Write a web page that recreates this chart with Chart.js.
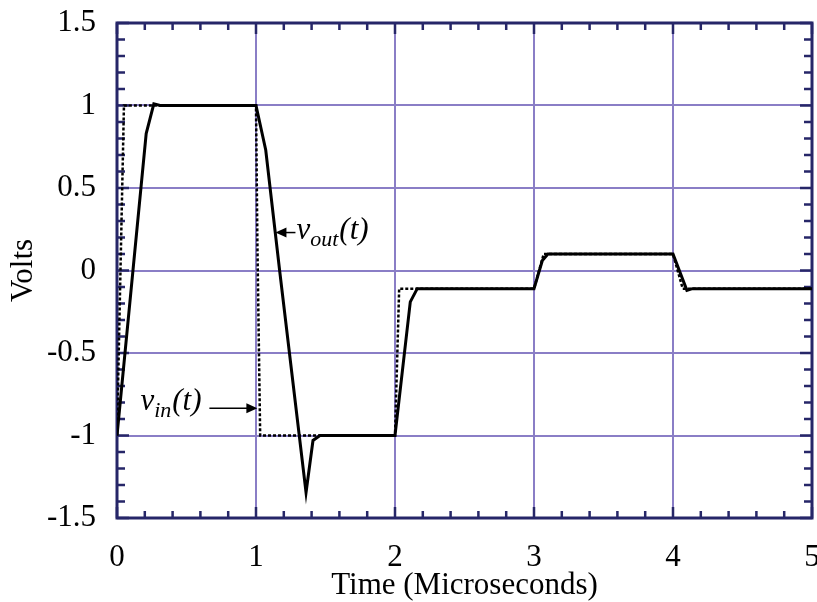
<!DOCTYPE html>
<html><head><meta charset="utf-8">
<script src="https://cdn.jsdelivr.net/npm/chart.js@4"></script>
<style>html,body{margin:0;padding:0;background:#fff;overflow:hidden}#wrap{width:817px;height:602px}</style>
</head><body><div id="wrap"><canvas id="c" width="817" height="602"></canvas></div>
<script>
// ---- data ----
const voutT = [0, 0.21, 0.265, 0.31, 1.0, 1.07, 1.17, 1.36, 1.41, 1.46, 2.0, 2.11, 2.16, 3.0, 3.06, 3.1, 4.0, 4.1, 4.14, 5.0];
const voutV = [-1, 0.83, 1.01, 1.0, 1.0, 0.73, 0.0, -1.345, -1.03, -1.0, -1.0, -0.19, -0.11, -0.11, 0.06, 0.1, 0.1, -0.12, -0.11, -0.11];
const vinT  = [0, 0.05, 1.0, 1.01, 1.03, 2.0, 2.03, 3.0, 3.07, 4.0, 4.07, 5.0];
const vinV  = [-1, 1, 1, 0.16, -1, -1, -0.11, -0.11, 0.1, 0.1, -0.11, -0.11];
const xTickLabels = ['0', '1', '2', '3', '4', '5'];
const yTickLabels = ['-1.5', '-1', '-0.5', '0', '0.5', '1', '1.5'];
const xTitle = 'Time (Microseconds)';
const yTitle = 'Volts';
// annotation anchors (data units): arrow tips
const voutArrowTip = [1.14, 0.23];
const vinArrowTip = [1.01, -0.835];

const SERIF = '"Liberation Serif", "Times New Roman", serif';
const BORDER = '#262668';
const GRID = '#8a7ec6';

const toXY = (T, V) => T.map((t, i) => ({x: t, y: V[i]}));
const isMajorX = v => Math.abs(v - Math.round(v)) < 1e-6;
const isMajorY = v => Math.abs(v * 2 - Math.round(v * 2)) < 1e-6;

const framePlugin = {
  id: 'frame',
  beforeDatasetsDraw(chart) {
    const {ctx, chartArea: a, scales: {x, y}} = chart;
    ctx.save();
    ctx.strokeStyle = BORDER;
    ctx.lineWidth = 2.5;
    ctx.beginPath();
    for (let i = 0; i <= 25; i++) {
      const v = i * 0.2;
      const px = x.getPixelForValue(v);
      const len = (i % 5 === 0) ? 11 : 7;
      ctx.moveTo(px, a.bottom); ctx.lineTo(px, a.bottom - len);
      ctx.moveTo(px, a.top); ctx.lineTo(px, a.top + len);
    }
    for (let i = 0; i <= 30; i++) {
      const v = -1.5 + i * 0.1;
      const py = y.getPixelForValue(v);
      const len = (i % 5 === 0) ? 12 : 8;
      ctx.moveTo(a.left, py); ctx.lineTo(a.left + len, py);
      ctx.moveTo(a.right, py); ctx.lineTo(a.right - len, py);
    }
    ctx.stroke();
    ctx.lineWidth = 3;
    ctx.strokeRect(a.left, a.top, a.right - a.left, a.bottom - a.top);
    ctx.restore();
  },
  afterDatasetsDraw(chart) {
    const {ctx, scales: {x, y}} = chart;
    ctx.save();
    ctx.fillStyle = '#000';
    ctx.strokeStyle = '#000';
    ctx.lineWidth = 1.5;
    // vout arrow (pointing left)
    let tx = x.getPixelForValue(voutArrowTip[0]), ty = y.getPixelForValue(voutArrowTip[1]);
    ctx.beginPath(); ctx.moveTo(tx, ty); ctx.lineTo(tx + 11, ty - 5); ctx.lineTo(tx + 11, ty + 5); ctx.closePath(); ctx.fill();
    ctx.beginPath(); ctx.moveTo(tx + 10, ty); ctx.lineTo(tx + 20, ty); ctx.stroke();
    ctx.textBaseline = 'alphabetic'; ctx.textAlign = 'left';
    let cx = tx + 21, base = ty + 6;
    ctx.font = 'italic 31px ' + SERIF; ctx.fillText('v', cx, base); cx += ctx.measureText('v').width;
    ctx.font = 'italic 22px ' + SERIF; ctx.fillText('out', cx, base + 7); cx += ctx.measureText('out').width + 1;
    ctx.font = 'italic 31px ' + SERIF; ctx.fillText('(t)', cx, base);
    // vin arrow (pointing right)
    tx = x.getPixelForValue(vinArrowTip[0]); ty = y.getPixelForValue(vinArrowTip[1]);
    ctx.beginPath(); ctx.moveTo(tx, ty); ctx.lineTo(tx - 11, ty - 5); ctx.lineTo(tx - 11, ty + 5); ctx.closePath(); ctx.fill();
    ctx.beginPath(); ctx.moveTo(tx - 10, ty); ctx.lineTo(tx - 48, ty); ctx.stroke();
    cx = tx - 117; base = ty + 2;
    ctx.font = 'italic 31px ' + SERIF; ctx.fillText('v', cx, base); cx += ctx.measureText('v').width;
    ctx.font = 'italic 22px ' + SERIF; ctx.fillText('in', cx, base + 7); cx += ctx.measureText('in').width + 1;
    ctx.font = 'italic 31px ' + SERIF; ctx.fillText('(t)', cx, base);
    ctx.restore();
  }
};

new Chart(document.getElementById('c'), {
  type: 'scatter',
  data: {
    datasets: [
      {label: 'vin', data: toXY(vinT, vinV), showLine: true, borderColor: '#000', borderWidth: 2.5, borderDash: [3, 2], pointRadius: 0, tension: 0},
      {label: 'vout', data: toXY(voutT, voutV), showLine: true, borderColor: '#000', borderWidth: 3, pointRadius: 0, tension: 0}
    ]
  },
  options: {
    responsive: false,
    animation: false,
    devicePixelRatio: 1,
    layout: {padding: {top: 23, right: 5, bottom: 0, left: 0}},
    plugins: {legend: {display: false}, tooltip: {enabled: false}, title: {display: false}},
    scales: {
      x: {
        type: 'linear', min: 0, max: 5,
        border: {display: false},
        grid: {drawTicks: false, lineWidth: 2, color: c => isMajorX(c.tick.value) ? GRID : 'rgba(0,0,0,0)'},
        ticks: {stepSize: 0.2, autoSkip: false, maxRotation: 0, padding: 21, color: '#000',
          font: {family: SERIF, size: 31},
          callback: v => isMajorX(v) ? xTickLabels[Math.round(v)] : ''},
        title: {display: true, text: xTitle, color: '#000', font: {family: SERIF, size: 31}, padding: {top: 0, bottom: -2}},
        afterFit: s => { s.height = 84; s.paddingLeft = 0; s.paddingRight = 0; }
      },
      y: {
        type: 'linear', min: -1.5, max: 1.5,
        border: {display: false},
        grid: {drawTicks: false, lineWidth: 2, color: c => isMajorY(c.tick.value) ? GRID : 'rgba(0,0,0,0)'},
        ticks: {stepSize: 0.1, autoSkip: false, padding: 21, color: '#000',
          font: {family: SERIF, size: 31},
          callback: v => isMajorY(v) ? yTickLabels[Math.round(v * 2) + 3] : ''},
        title: {display: true, text: yTitle, color: '#000', font: {family: SERIF, size: 31}, padding: {top: 5, bottom: 0}},
        afterFit: s => { s.width = 117; s.paddingTop = 0; s.paddingBottom = 0; }
      }
    }
  },
  plugins: [framePlugin]
});
</script></body></html>
